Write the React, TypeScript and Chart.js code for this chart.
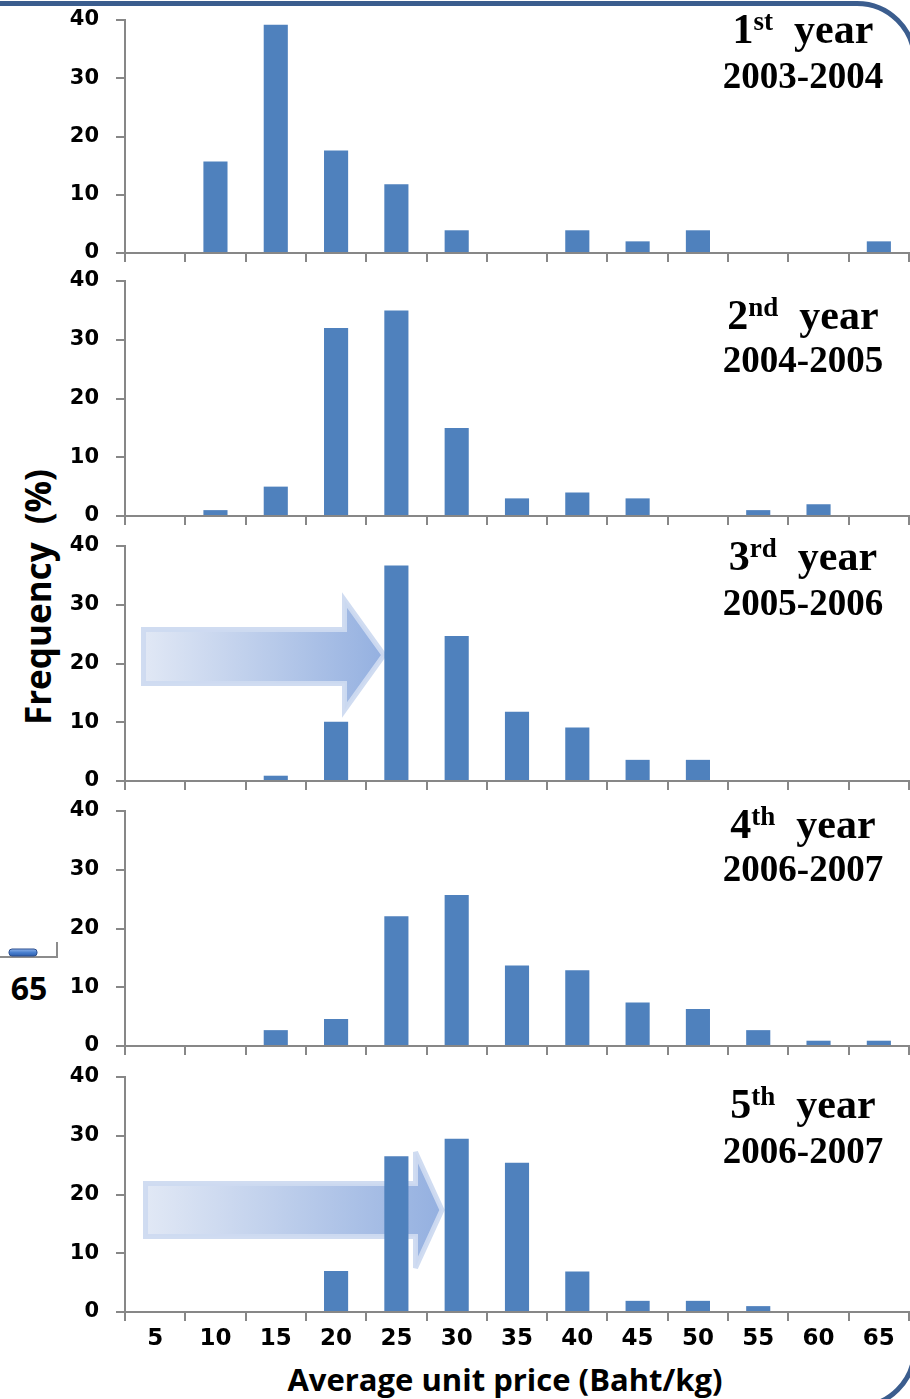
import React, { useEffect, useRef } from "react";
import { Chart, registerables } from "chart.js";

Chart.register(...registerables);

// ---------- data ----------
const categories = ["5", "10", "15", "20", "25", "30", "35", "40", "45", "50", "55", "60", "65"];
const year1 = [0, 15.7, 39.2, 17.6, 11.8, 3.9, 0, 3.9, 2.0, 3.9, 0, 0, 2.0];
const year2 = [0, 1, 5, 32, 35, 15, 3, 4, 3, 0, 1, 2, 0];
const year3 = [0, 0, 0.9, 10.1, 36.7, 24.7, 11.8, 9.1, 3.6, 3.6, 0, 0, 0];
const year4 = [0, 0, 2.7, 4.6, 22.1, 25.7, 13.7, 12.9, 7.4, 6.3, 2.7, 0.9, 0.9];
const year5 = [0, 0, 0, 7.0, 26.5, 29.5, 25.4, 6.9, 1.9, 1.9, 1.0, 0, 0];
const seriesList = [year1, year2, year3, year4, year5];
const yTickValues = [0, 10, 20, 30, 40];
const ordinals = ["1", "2", "3", "4", "5"];
const suffixes = ["st", "nd", "rd", "th", "th"];
const periods = ["2003-2004", "2004-2005", "2005-2006", "2006-2007", "2006-2007"];
const xTitle = "Average unit price (Baht/kg)";
const yTitle = "Frequency  (%)";

// ---------- layout ----------
const PANEL_TOP = [20, 281, 546, 811, 1077];
const PANEL_BOTTOM = [253, 516, 781, 1046, 1312];
const PAD_TOP = 30;
const X_AXIS_H = [30, 30, 30, 30, 87];
const LINE1_OFF = [23, 48, 24, 27, 41];
const LINE2_OFF = [68, 91, 69, 70, 86];
const LABEL_CX = 803;
const AXIS_GRAY = "#878787";
const BAR_BLUE = "#4f81bd";

function yearLabelPlugin(i: number) {
  return {
    id: "yearLabel" + i,
    afterDraw(chart: any) {
      const ctx = chart.ctx;
      const top = chart.chartArea.top;
      const y1 = top + LINE1_OFF[i];
      const y2 = top + LINE2_OFF[i];
      const fam = '"Liberation Serif", "Times New Roman", serif';
      const big = "bold 42px " + fam;
      const sup = "bold 27px " + fam;
      ctx.save();
      ctx.fillStyle = "#000";
      ctx.textBaseline = "alphabetic";
      ctx.textAlign = "left";
      ctx.font = big;
      const wN = ctx.measureText(ordinals[i]).width;
      const wYear = ctx.measureText("  year").width;
      ctx.font = sup;
      const wS = ctx.measureText(suffixes[i]).width;
      let x = LABEL_CX - (wN + wS + wYear) / 2;
      ctx.font = big;
      ctx.fillText(ordinals[i], x, y1);
      x += wN;
      ctx.font = sup;
      ctx.fillText(suffixes[i], x, y1 - 13);
      x += wS;
      ctx.font = big;
      ctx.fillText("  year", x, y1);
      ctx.font = "bold 37px " + fam;
      ctx.textAlign = "center";
      ctx.fillText(periods[i], LABEL_CX, y2);
      ctx.restore();
    },
  };
}

function Panel({ index }: { index: number }) {
  const ref = useRef<HTMLCanvasElement | null>(null);
  const isLast = index === 4;
  const xh = X_AXIS_H[index];
  const plotH = PANEL_BOTTOM[index] - PANEL_TOP[index];
  const height = PAD_TOP + plotH + xh;
  const top = PANEL_TOP[index] - PAD_TOP;

  useEffect(() => {
    if (!ref.current) return;
    const chart = new Chart(ref.current, {
      type: "bar",
      data: {
        labels: categories,
        datasets: [
          {
            data: seriesList[index],
            backgroundColor: BAR_BLUE,
            borderWidth: 0,
            barPercentage: 0.4,
            categoryPercentage: 1.0,
          },
        ],
      },
      options: {
        responsive: false,
        maintainAspectRatio: false,
        animation: false,
        devicePixelRatio: 1,
        layout: { padding: { top: PAD_TOP, right: 1, bottom: 0, left: 0 } },
        plugins: {
          legend: { display: false },
          tooltip: { enabled: false },
          title: { display: false },
        },
        scales: {
          x: {
            type: "category",
            offset: true,
            grid: {
              offset: true,
              drawOnChartArea: false,
              drawTicks: true,
              tickLength: 9,
              color: AXIS_GRAY,
              lineWidth: 2,
            },
            border: { display: true, color: AXIS_GRAY, width: 2 },
            ticks: {
              display: isLast,
              color: "#000",
              font: { family: "DejaVu Sans", weight: "bold", size: 23 },
              padding: 4,
              maxRotation: 0,
              autoSkip: false,
            },
            afterFit: (s: any) => {
              s.height = xh;
            },
          },
          y: {
            min: 0,
            max: 40,
            afterBuildTicks: (s: any) => {
              s.ticks = yTickValues.map((v) => ({ value: v }));
            },
            ticks: {
              color: "#000",
              font: { family: "DejaVu Sans", weight: "bold", size: 21 },
              padding: 17,
            },
            grid: {
              drawOnChartArea: false,
              drawTicks: true,
              tickLength: 9,
              color: AXIS_GRAY,
              lineWidth: 2,
            },
            border: { display: true, color: AXIS_GRAY, width: 2 },
            afterFit: (s: any) => {
              s.width = 125;
            },
          },
        },
      } as any,
      plugins: [yearLabelPlugin(index)],
    });
    return () => chart.destroy();
  }, [index]);

  return (
    <canvas
      ref={ref}
      width={910}
      height={height}
      style={{ position: "absolute", left: 0, top, width: 910, height, zIndex: 2 }}
    />
  );
}

export default function App() {
  return (
    <div
      style={{
        position: "absolute",
        left: 0,
        top: 0,
        width: 910,
        height: 1399,
        overflow: "hidden",
        background: "#fff",
      }}
    >
      <div
        style={{
          position: "absolute",
          left: -100,
          top: 1,
          width: 1017,
          height: 1408,
          boxSizing: "border-box",
          border: "5px solid #3b5d8e",
          borderRadius: 60,
          zIndex: 0,
        }}
      />
      <svg
        width={910}
        height={1399}
        style={{ position: "absolute", left: 0, top: 0, zIndex: 1 }}
      >
        <defs>
          <linearGradient id="arrowGrad" x1="0" y1="0" x2="1" y2="0">
            <stop offset="0" stopColor="#e1e8f5" />
            <stop offset="1" stopColor="#94b0e0" />
          </linearGradient>
          <linearGradient id="keyGrad" x1="0" y1="0" x2="0" y2="1">
            <stop offset="0" stopColor="#8fb4ea" />
            <stop offset="0.5" stopColor="#4a80cf" />
            <stop offset="1" stopColor="#2d5fae" />
          </linearGradient>
        </defs>
        <polygon
          points="143.5,629.5 344.5,629.5 344.5,600 384,655 344.5,710 344.5,683.5 143.5,683.5"
          fill="url(#arrowGrad)"
          stroke="rgba(205,218,240,0.95)"
          strokeWidth={5}
          strokeLinejoin="miter"
        />
        <polygon
          points="145.5,1183.5 415.5,1183.5 415.5,1152 442,1210 415.5,1268 415.5,1236.5 145.5,1236.5"
          fill="url(#arrowGrad)"
          stroke="rgba(205,218,240,0.95)"
          strokeWidth={5}
          strokeLinejoin="miter"
        />
        <polyline points="0,957 57,957 57,942" fill="none" stroke="#8c8c8c" strokeWidth={2} />
        <rect x={9} y={949} width={28} height={7} rx={3} fill="url(#keyGrad)" stroke="#2c4f8f" strokeWidth={1} />
        <text
          x={29}
          y={1000}
          textAnchor="middle"
          fontFamily="Open Sans"
          fontWeight="bold"
          fontSize={32}
          fill="#000"
        >
          65
        </text>
        <text
          transform="translate(51,597) rotate(-90)"
          textAnchor="middle"
          fontFamily="Open Sans"
          fontWeight="bold"
          fontSize={35}
          fill="#000"
          style={{ whiteSpace: "pre" }}
        >
          {yTitle}
        </text>
        <text
          x={505}
          y={1391}
          textAnchor="middle"
          fontFamily="Open Sans"
          fontWeight="bold"
          fontSize={31}
          fill="#000"
        >
          {xTitle}
        </text>
      </svg>
      {[0, 1, 2, 3, 4].map((i) => (
        <Panel key={i} index={i} />
      ))}
    </div>
  );
}
